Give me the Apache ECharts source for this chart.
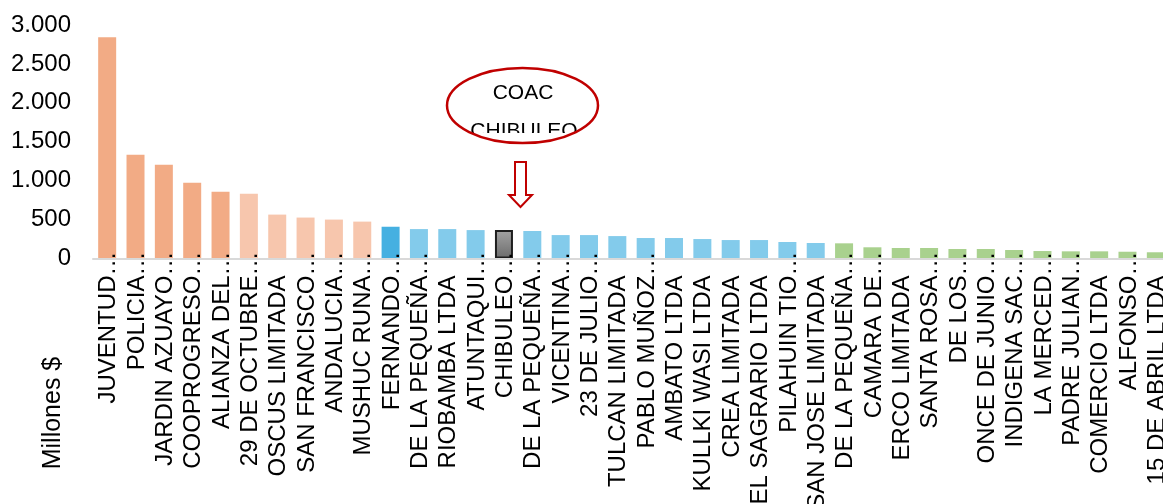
<!DOCTYPE html>
<html>
<head>
<meta charset="utf-8">
<script src="https://cdn.jsdelivr.net/npm/echarts@6/dist/echarts.min.js"></script>
<style>
  html, body { margin: 0; padding: 0; background: #fff; }
  #chart { width: 1163px; height: 504px; }
</style>
</head>
<body>
<div id="chart"></div>
<script>
const categories = [
  'JUVENTUD…', 'POLICIA…', 'JARDIN AZUAYO…', 'COOPROGRESO…', 'ALIANZA DEL…',
  '29 DE OCTUBRE…', 'OSCUS LIMITADA', 'SAN FRANCISCO…', 'ANDALUCIA…', 'MUSHUC RUNA…',
  'FERNANDO…', 'DE LA PEQUEÑA…', 'RIOBAMBA LTDA', 'ATUNTAQUI…', 'CHIBULEO…',
  'DE LA PEQUEÑA…', 'VICENTINA…', '23 DE JULIO…', 'TULCAN LIMITADA', 'PABLO MUÑOZ…',
  'AMBATO LTDA', 'KULLKI WASI LTDA', 'CREA LIMITADA', 'EL SAGRARIO LTDA', 'PILAHUIN TIO…',
  'SAN JOSE LIMITADA', 'DE LA PEQUEÑA…', 'CAMARA DE…', 'ERCO LIMITADA', 'SANTA ROSA…',
  'DE LOS…', 'ONCE DE JUNIO…', 'INDIGENA SAC…', 'LA MERCED…', 'PADRE JULIAN…',
  'COMERCIO LTDA', 'ALFONSO…', '15 DE ABRIL LTDA'
];
const values = [
  2842, 1333, 1205, 974, 859,
  833, 564, 526, 500, 474,
  408, 378, 378, 365, 366,
  353, 301, 301, 288, 263,
  263, 250, 237, 237, 212,
  199, 195, 144, 135, 135,
  122, 122, 109, 96, 92,
  92, 87, 80
];
const yTicks = [0, 500, 1000, 1500, 2000, 2500, 3000];
const axisTitle = 'Millones $';
const noteLines = ['COAC', 'CHIBULEO'];
const highlightIndex = 14;

const FONT = '"Liberation Sans", Arial, sans-serif';

function barColor(i) {
  if (i === highlightIndex) return null;
  if (i <= 4) return '#f2ab85';
  if (i <= 9) return '#f7c6ad';
  if (i === 10) return '#45b0e1';
  if (i <= 25) return '#83cbeb';
  return '#a9d18e';
}

const data = values.map((v, i) => {
  if (i === highlightIndex) {
    return {
      value: v,
      itemStyle: {
        color: new echarts.graphic.LinearGradient(0, 0, 0, 1, [
          { offset: 0, color: '#a3a3a3' },
          { offset: 1, color: '#6c6c6c' }
        ]),
        borderColor: '#1e1e1e',
        borderWidth: 2
      }
    };
  }
  return { value: v, itemStyle: { color: barColor(i) } };
});

const chart = echarts.init(document.getElementById('chart'), null, { renderer: 'canvas' });

const option = {
  animation: false,
  backgroundColor: '#ffffff',
  grid: {
    left: 93, top: 25, width: 1077, height: 233.5,
    containLabel: false,
    outerBoundsMode: 'none'
  },
  xAxis: {
    type: 'category',
    data: categories,
    z: 5,
    axisLine: { show: true, lineStyle: { color: '#d9d9d9', width: 2 } },
    axisTick: { show: false },
    splitLine: { show: false },
    axisLabel: {
      interval: 0,
      rotate: 90,
      margin: -7,
      color: '#000',
      fontSize: 24,
      fontFamily: FONT,
      hideOverlap: false,
      padding: [3, 0, 0, 0],
      formatter: function (v) {
        return v.endsWith('…') ? v : v + '{h|…}';
      },
      rich: {
        h: { color: 'rgba(0,0,0,0)', fontSize: 24, fontFamily: FONT }
      }
    }
  },
  yAxis: {
    type: 'value',
    min: yTicks[0],
    max: yTicks[yTicks.length - 1],
    interval: yTicks[1] - yTicks[0],
    axisLine: { show: false },
    axisTick: { show: false },
    splitLine: { show: false },
    axisLabel: {
      margin: 22,
      color: '#000',
      fontSize: 24,
      fontFamily: FONT,
      formatter: function (v) {
        return String(v).replace(/\B(?=(\d{3})+(?!\d))/g, '.');
      }
    }
  },
  series: [{
    type: 'bar',
    data: data,
    barWidth: 18,
    z: 2
  }],
  graphic: [
    {
      type: 'text',
      x: 53, y: 413,
      rotation: Math.PI / 2,
      style: {
        text: axisTitle,
        fill: '#000',
        font: '25px ' + FONT,
        align: 'center',
        verticalAlign: 'middle'
      }
    },
    {
      type: 'text',
      x: 523, y: 93,
      style: {
        text: noteLines[0],
        fill: '#000',
        font: '21px ' + FONT,
        align: 'center',
        verticalAlign: 'middle'
      },
      z: 10
    },
    {
      type: 'text',
      x: 524, y: 131,
      style: {
        text: noteLines[1],
        fill: '#000',
        font: '21px ' + FONT,
        align: 'center',
        verticalAlign: 'middle'
      },
      z: 10
    },
    {
      type: 'rect',
      shape: { x: 455, y: 133, width: 140, height: 14 },
      style: { fill: '#ffffff' },
      z: 11
    },
    {
      type: 'ellipse',
      shape: { cx: 522.5, cy: 105.5, rx: 75.5, ry: 37.5 },
      style: { fill: 'rgba(0,0,0,0)', stroke: '#c00000', lineWidth: 2.5 },
      z: 12
    },
    {
      type: 'polygon',
      shape: {
        points: [[515, 162], [526, 162], [526, 195], [532, 195], [520.5, 207], [509, 195], [515, 195]]
      },
      style: { fill: '#ffffff', stroke: '#c00000', lineWidth: 2 },
      z: 12
    }
  ]
};

chart.setOption(option);
</script>
</body>
</html>
